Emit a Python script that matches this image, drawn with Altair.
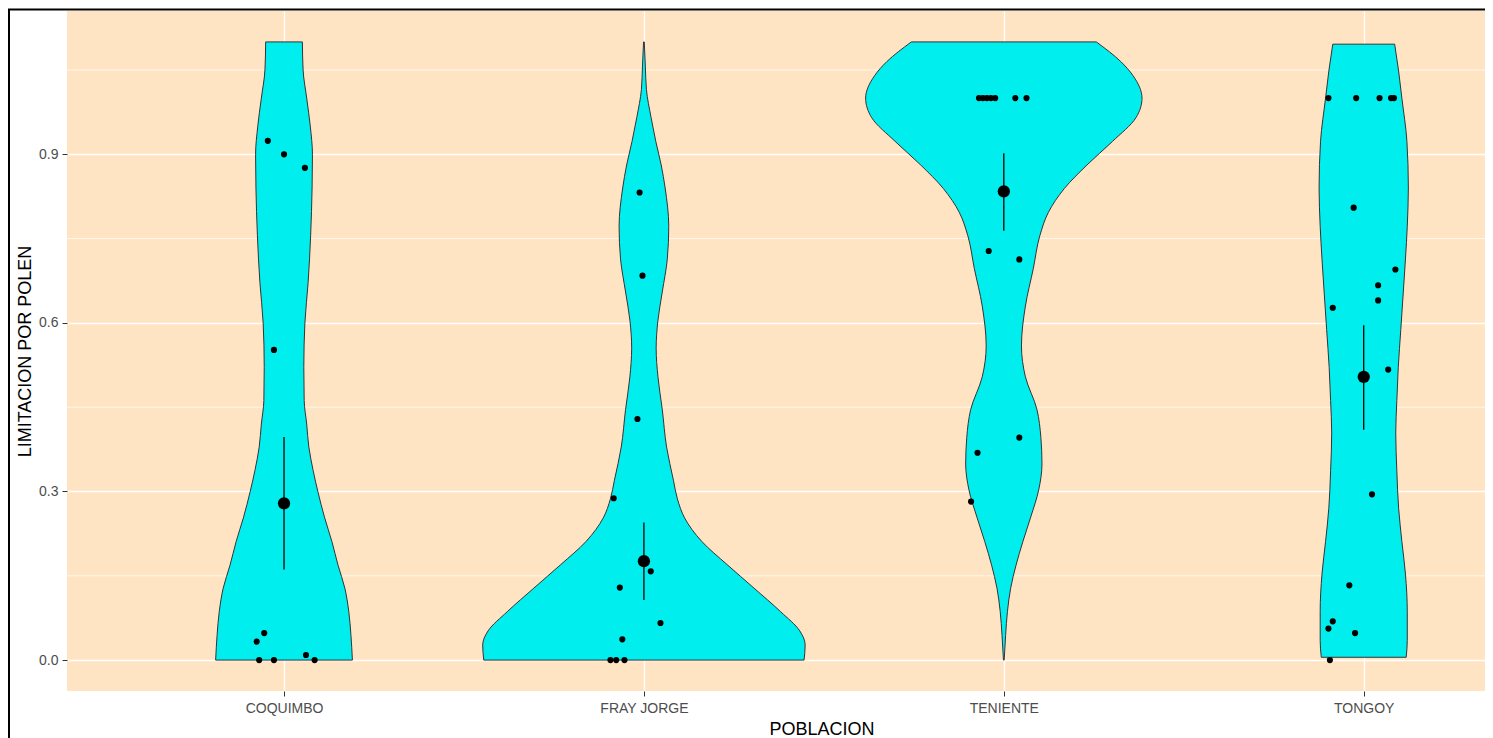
import json
import altair as alt
import pandas as pd

# ---------------- data ----------------
populations = ["COQUIMBO", "FRAY JORGE", "TENIENTE", "TONGOY"]

# violin outlines: level (y value) and half-width (in category units)
coq_levels = [0.0, 0.044, 0.086, 0.128, 0.169, 0.211, 0.253, 0.30, 0.337, 0.379, 0.42, 0.462,
              0.521, 0.60, 0.672, 0.756, 0.84, 0.90, 0.95, 1.0, 1.05, 1.10]
coq_half = [0.190, 0.186, 0.180, 0.169, 0.150, 0.133, 0.113, 0.094, 0.081, 0.069, 0.063, 0.056,
            0.055, 0.058, 0.067, 0.074, 0.078, 0.079, 0.073, 0.063, 0.053, 0.051]

fj_levels = [0.0, 0.027, 0.052, 0.086, 0.128, 0.17, 0.211, 0.253, 0.287, 0.32, 0.379, 0.446,
             0.504, 0.555, 0.605, 0.655, 0.714, 0.772, 0.84, 0.881, 0.923, 0.965, 1.015,
             1.057, 1.10]
fj_half = [0.445, 0.448, 0.433, 0.380, 0.306, 0.231, 0.161, 0.113, 0.093, 0.082, 0.063, 0.051,
           0.039, 0.034, 0.039, 0.051, 0.065, 0.069, 0.059, 0.048, 0.033, 0.020, 0.007,
           0.004, 0.001]

ten_levels = [0.0, 0.044, 0.086, 0.128, 0.169, 0.211, 0.253, 0.303, 0.349, 0.396, 0.446, 0.504,
              0.559, 0.63, 0.697, 0.755, 0.797, 0.839, 0.881, 0.923, 0.965, 1.0, 1.04, 1.065,
              1.10]
ten_half = [0.001, 0.005, 0.010, 0.019, 0.034, 0.053, 0.074, 0.097, 0.106, 0.103, 0.092, 0.060,
            0.049, 0.060, 0.082, 0.100, 0.124, 0.168, 0.231, 0.302, 0.367, 0.384, 0.359, 0.325,
            0.257]

ton_levels = [0.005, 0.035, 0.086, 0.153, 0.211, 0.27, 0.337, 0.404, 0.462, 0.521, 0.588, 0.655,
              0.714, 0.772, 0.84, 0.923, 1.0, 1.048, 1.096]
ton_half = [0.118, 0.121, 0.121, 0.116, 0.106, 0.097, 0.092, 0.089, 0.092, 0.096, 0.103, 0.110,
            0.116, 0.121, 0.124, 0.120, 0.106, 0.097, 0.086]

# individual observations: value and horizontal jitter (category units)
coq_values = [0.924, 0.900, 0.876, 0.552, 0.048, 0.033, 0.0, 0.0, 0.009, 0.0]
coq_jitter = [-0.045, 0.0, 0.058, -0.028, -0.055, -0.076, -0.069, -0.028, 0.061, 0.085]

fj_values = [0.832, 0.684, 0.429, 0.288, 0.158, 0.129, 0.066, 0.037, 0.0, 0.0, 0.0]
fj_jitter = [-0.012, -0.004, -0.018, -0.084, 0.019, -0.067, 0.046, -0.060, -0.093, -0.077, -0.054]

ten_values = [1.0, 1.0, 1.0, 1.0, 1.0, 1.0, 1.0, 0.728, 0.713, 0.396, 0.369, 0.282]
ten_jitter = [-0.069, -0.058, -0.047, -0.036, -0.024, 0.032, 0.063, -0.042, 0.043, 0.043, -0.073, -0.091]

ton_values = [1.0, 1.0, 1.0, 1.0, 1.0, 0.805, 0.695, 0.667, 0.640, 0.627, 0.517, 0.295, 0.133,
              0.069, 0.056, 0.048, 0.0]
ton_jitter = [-0.098, -0.021, 0.044, 0.076, 0.084, -0.028, 0.088, 0.040, 0.040, -0.086, 0.068,
              0.023, -0.040, -0.086, -0.098, -0.024, -0.094]

# group mean and its interval
means = [0.279, 0.176, 0.834, 0.504]
lower = [0.161, 0.107, 0.764, 0.410]
upper = [0.397, 0.245, 0.902, 0.596]

y_breaks = [0.0, 0.3, 0.6, 0.9]
y_minor = [0.15, 0.45, 0.75, 1.05]

# ---------------- tables ----------------
outlines = [(coq_levels, coq_half), (fj_levels, fj_half), (ten_levels, ten_half), (ton_levels, ton_half)]
obs = [(coq_values, coq_jitter), (fj_values, fj_jitter), (ten_values, ten_jitter), (ton_values, ton_jitter)]

vrows = []
for i, (lv, hw) in enumerate(outlines):
    for l, h in zip(lv, hw):
        vrows.append({"pop": populations[i], "level": l, "left": i - h, "right": i + h})
violin_df = pd.DataFrame(vrows)

prows = []
for i, (vals, jit) in enumerate(obs):
    for v, j in zip(vals, jit):
        prows.append({"pop": populations[i], "value": v, "xpos": i + j})
points_df = pd.DataFrame(prows)

summary_df = pd.DataFrame({"pop": populations, "idx": list(range(len(populations))),
                           "mean": means, "lower": lower, "upper": upper})
minor_df = pd.DataFrame({"y": y_minor})

# ---------------- scales / axes ----------------
W, H = 1418, 680
FONT = "Liberation Sans"
x_min = -0.603
x_max = x_min + W / 359.9
xscale = alt.Scale(domain=[x_min, x_max], nice=False, zero=False)
yscale = alt.Scale(domain=[-0.055, 1.155], nice=False, zero=False)

label_expr = json.dumps(populations) + "[round(datum.value)]"

x_axis = alt.Axis(values=[0, 1, 2, 3], labelExpr=label_expr, title="POBLACION",
                  grid=True, gridColor="white", gridWidth=1.3, domain=False,
                  tickColor="#333333", tickSize=5, tickWidth=1,
                  labelFont=FONT, labelFontSize=14, labelColor="#4D4D4D", labelPadding=5,
                  titleFont=FONT, titleFontSize=18, titleFontWeight="normal", titleColor="black",
                  titleX=754.5, titleY=43, titleBaseline="alphabetic", titleAlign="center")
y_axis = alt.Axis(values=y_breaks, format=".1f", title="LIMITACION POR POLEN",
                  grid=True, gridColor="white", gridWidth=1.3, domain=False,
                  tickColor="#333333", tickSize=5, tickWidth=1,
                  labelFont=FONT, labelFontSize=14, labelColor="#4D4D4D", labelPadding=4,
                  titleFont=FONT, titleFontSize=18, titleFontWeight="normal", titleColor="black",
                  titleX=-37, titleY=H / 2, titleAngle=270, titleBaseline="alphabetic",
                  titleAlign="center")

minor = alt.Chart(minor_df).mark_rule(color="white", strokeWidth=0.7).encode(
    y=alt.Y("y:Q", scale=yscale, axis=y_axis)
)

violins = alt.Chart(violin_df).mark_area(
    orient="horizontal", fill="#00EEEE", stroke="#333333", strokeWidth=1,
    interpolate="monotone", fillOpacity=1
).encode(
    y=alt.Y("level:Q", scale=yscale, axis=y_axis),
    x=alt.X("left:Q", scale=xscale, axis=x_axis),
    x2="right:Q",
    detail="pop:N",
)

points = alt.Chart(points_df).mark_circle(color="black", size=38, opacity=1).encode(
    x=alt.X("xpos:Q", scale=xscale, axis=x_axis),
    y=alt.Y("value:Q", scale=yscale, axis=y_axis),
)

bars = alt.Chart(summary_df).mark_rule(color="black", strokeWidth=1.3).encode(
    x=alt.X("idx:Q", scale=xscale, axis=x_axis),
    y=alt.Y("lower:Q", scale=yscale, axis=y_axis),
    y2="upper:Q",
)

mean_pts = alt.Chart(summary_df).mark_circle(color="black", size=150, opacity=1).encode(
    x=alt.X("idx:Q", scale=xscale, axis=x_axis),
    y=alt.Y("mean:Q", scale=yscale, axis=y_axis),
)

frame_src = alt.Data(values=[{"k": 1}])
frame_left = alt.Chart(frame_src).mark_rule(color="black", strokeWidth=2).encode(
    x=alt.value(-58), y=alt.value(-1.5), y2=alt.value(H + 60)
)
frame_top = alt.Chart(frame_src).mark_rule(color="black", strokeWidth=2).encode(
    x=alt.value(-59), x2=alt.value(W + 10), y=alt.value(-1.5)
)

chart = alt.layer(minor, violins, points, bars, mean_pts, frame_left, frame_top).properties(
    width=W, height=H,
    autosize=alt.AutoSizeParams(type="none"),
    padding={"left": 59, "top": 3, "right": 0, "bottom": 47},
    background="white",
).configure_view(fill="#FFE4C4", strokeWidth=0)

chart.save("out.html", embed_options={"renderer": "svg", "actions": False})
